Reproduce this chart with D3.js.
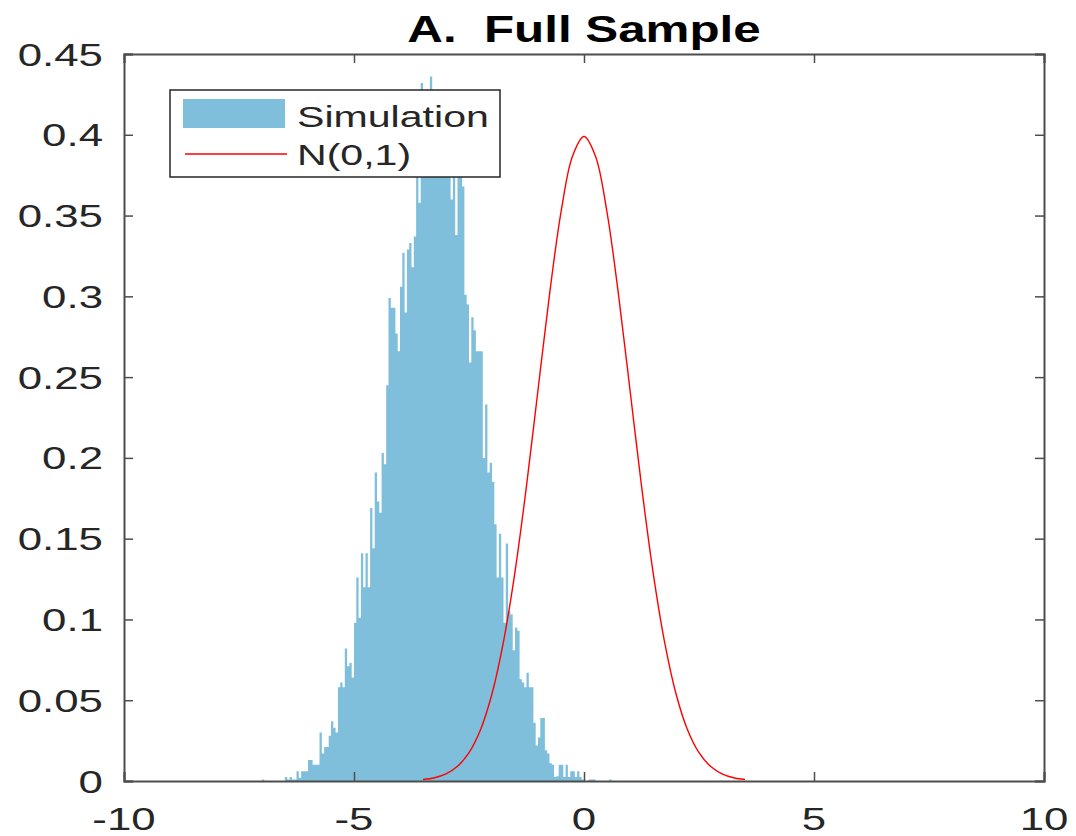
<!DOCTYPE html>
<html>
<head>
<meta charset="utf-8">
<script src="https://cdn.jsdelivr.net/npm/d3@7"></script>
<style>
  html, body { margin: 0; padding: 0; background: #ffffff; }
  svg { display: block; }
  text { font-family: "Liberation Sans", Arial, Helvetica, sans-serif; fill: #262626; white-space: pre; }
</style>
</head>
<body>
<svg id="chart" width="1076" height="836"></svg>
<script>
// ---------------- data ----------------
const titleText = "A.  Full Sample";
const seriesNames = ["Simulation", "N(0,1)"];

// histogram of simulated statistic: bins start at -7.0, width 0.05
const binStart = -7.0;
const binWidth = 0.05;
const simDensity = [
  0.001, 0, 0, 0, 0, 0, 0, 0, 0, 0,
  0.0025, 0.001, 0.0025, 0.001, 0.001, 0.006, 0.002, 0.006, 0.006, 0.006,
  0.013, 0.013, 0.010, 0.010, 0.010, 0.030, 0.017, 0.021, 0.021, 0.028,
  0.037, 0.033, 0.030, 0.058, 0.061, 0.058, 0.082, 0.071, 0.073, 0.064,
  0.098, 0.126, 0.101, 0.141, 0.120, 0.141, 0.120, 0.169, 0.144, 0.191,
  0.173, 0.166, 0.203, 0.196, 0.245, 0.299, 0.293, 0.293, 0.277, 0.266,
  0.306, 0.327, 0.290, 0.329, 0.333, 0.318, 0.337, 0.390, 0.358, 0.432,
  0.410, 0.400, 0.415, 0.436, 0.410, 0.400, 0.420, 0.405, 0.410, 0.395,
  0.400, 0.385, 0.360, 0.390, 0.338, 0.380, 0.375, 0.368, 0.301, 0.295,
  0.259, 0.287, 0.279, 0.266, 0.266, 0.266, 0.200, 0.233, 0.191, 0.197,
  0.185, 0.159, 0.126, 0.153, 0.126, 0.098, 0.147, 0.105, 0.103, 0.081,
  0.095, 0.093, 0.063, 0.061, 0.058, 0.067, 0.058, 0.058, 0.036, 0.022,
  0.027, 0.039, 0.039, 0.019, 0.017, 0.011, 0.010, 0.0025, 0.003, 0.010,
  0.010, 0.0025, 0.010, 0.0025, 0.006, 0.006, 0.0025, 0.006, 0.0025, 0.001,
  0, 0, 0.001, 0.001, 0.001, 0, 0, 0, 0, 0,
  0, 0.001
];

// standard normal density, as plotted
const normX = [-3.5, -3.25, -3.0, -2.75, -2.5, -2.25, -2.0, -1.75, -1.5, -1.25, -1.0, -0.75, -0.5, -0.25, 0,
               0.25, 0.5, 0.75, 1.0, 1.25, 1.5, 1.75, 2.0, 2.25, 2.5, 2.75, 3.0, 3.25, 3.5];
const normY = [0.0009, 0.0020, 0.0044, 0.0091, 0.0175, 0.0317, 0.0540, 0.0863, 0.1295, 0.1827, 0.2420, 0.3011, 0.3521, 0.3867, 0.3989,
               0.3867, 0.3521, 0.3011, 0.2420, 0.1827, 0.1295, 0.0863, 0.0540, 0.0317, 0.0175, 0.0091, 0.0044, 0.0020, 0.0009];

const xTicks = [-10, -5, 0, 5, 10];
const xTickLabels = ["-10", "-5", "0", "5", "10"];
const yTicks = [0, 0.05, 0.1, 0.15, 0.2, 0.25, 0.3, 0.35, 0.4, 0.45];
const yTickLabels = ["0", "0.05", "0.1", "0.15", "0.2", "0.25", "0.3", "0.35", "0.4", "0.45"];

// ---------------- drawing ----------------
const svg = d3.select("#chart");
const SX = 1.37; // horizontal stretch of the text as seen in the reference
const frame = { left: 124, right: 1044, top: 54, bottom: 781 };

const x = d3.scaleLinear().domain([-10, 10]).range([frame.left, frame.right]);
const y = d3.scaleLinear().domain([0, 0.45]).range([frame.bottom, frame.top]);

const barColor = "#7fbfdb";
const axisColor = "#4d4d4d";

function stretchedText(parent, tx, ty, str, opts) {
  const g = parent.append("g").attr("transform", `translate(${tx},${ty}) scale(${SX},1)`);
  const t = g.append("text")
    .attr("x", 0).attr("y", 0)
    .attr("xml:space", "preserve")
    .attr("text-anchor", opts.anchor || "start")
    .style("font-size", opts.size + "px")
    .style("font-weight", opts.weight || "normal")
    .text(str);
  return t;
}

// histogram as one stepped area (no seams between bins)
const stepPts = simDensity.map((v, i) => [binStart + i * binWidth, v]);
stepPts.push([binStart + simDensity.length * binWidth, 0]);
svg.append("path")
  .datum(stepPts)
  .attr("fill", barColor)
  .attr("stroke", "none")
  .attr("d", d3.area()
    .x(d => x(d[0]))
    .y0(y(0))
    .y1(d => y(d[1]))
    .curve(d3.curveStepAfter));

// normal curve
const normPts = normX.map((v, i) => [v, normY[i]]);
svg.append("path")
  .datum(normPts)
  .attr("fill", "none")
  .attr("stroke", "#ff0000")
  .attr("stroke-width", 1.4)
  .attr("d", d3.line().x(d => x(d[0])).y(d => y(d[1])).curve(d3.curveCatmullRom.alpha(0.5)));

// axes (MATLAB-like box, inward ticks on all four sides)
const tickLen = 9;
const bottomAxis = d3.axisBottom(x).tickValues(xTicks).tickSize(-tickLen).tickFormat(() => "");
const topAxis = d3.axisTop(x).tickValues(xTicks).tickSize(-tickLen).tickFormat(() => "");
const leftAxis = d3.axisLeft(y).tickValues(yTicks).tickSize(-tickLen).tickFormat(() => "");
const rightAxis = d3.axisRight(y).tickValues(yTicks).tickSize(-tickLen).tickFormat(() => "");

function styleAxis(g) {
  g.selectAll("path.domain").attr("stroke", axisColor).attr("stroke-width", 2);
  g.selectAll(".tick line").attr("stroke", axisColor).attr("stroke-width", 1.5);
}
svg.append("g").attr("transform", `translate(0,${frame.bottom})`).call(bottomAxis).call(styleAxis);
svg.append("g").attr("transform", `translate(0,${frame.top})`).call(topAxis).call(styleAxis);
svg.append("g").attr("transform", `translate(${frame.left},0)`).call(leftAxis).call(styleAxis);
svg.append("g").attr("transform", `translate(${frame.right},0)`).call(rightAxis).call(styleAxis);

// tick labels (stretched text)
const labels = svg.append("g");
xTicks.forEach((v, i) => {
  stretchedText(labels, x(v), 830, xTickLabels[i], { anchor: "middle", size: 32 });
});
yTicks.forEach((v, i) => {
  stretchedText(labels, 103, y(v) + 11.5, yTickLabels[i], { anchor: "end", size: 32 });
});

// title
stretchedText(svg, x(0), 42, titleText, { anchor: "middle", size: 36, weight: "bold" }).style("fill", "#000");

// legend
const lg = svg.append("g");
lg.append("rect")
  .attr("x", 170).attr("y", 90).attr("width", 330).attr("height", 87)
  .attr("fill", "#ffffff").attr("stroke", "#262626").attr("stroke-width", 1.5);
lg.append("rect")
  .attr("x", 183).attr("y", 99).attr("width", 102).attr("height", 29)
  .attr("fill", barColor);
lg.append("line")
  .attr("x1", 185).attr("x2", 287).attr("y1", 154).attr("y2", 154)
  .attr("stroke", "#ff0000").attr("stroke-width", 1.3);
stretchedText(lg, 297, 127, seriesNames[0], { size: 30 });
stretchedText(lg, 297, 165, seriesNames[1], { size: 30 });
</script>
</body>
</html>
